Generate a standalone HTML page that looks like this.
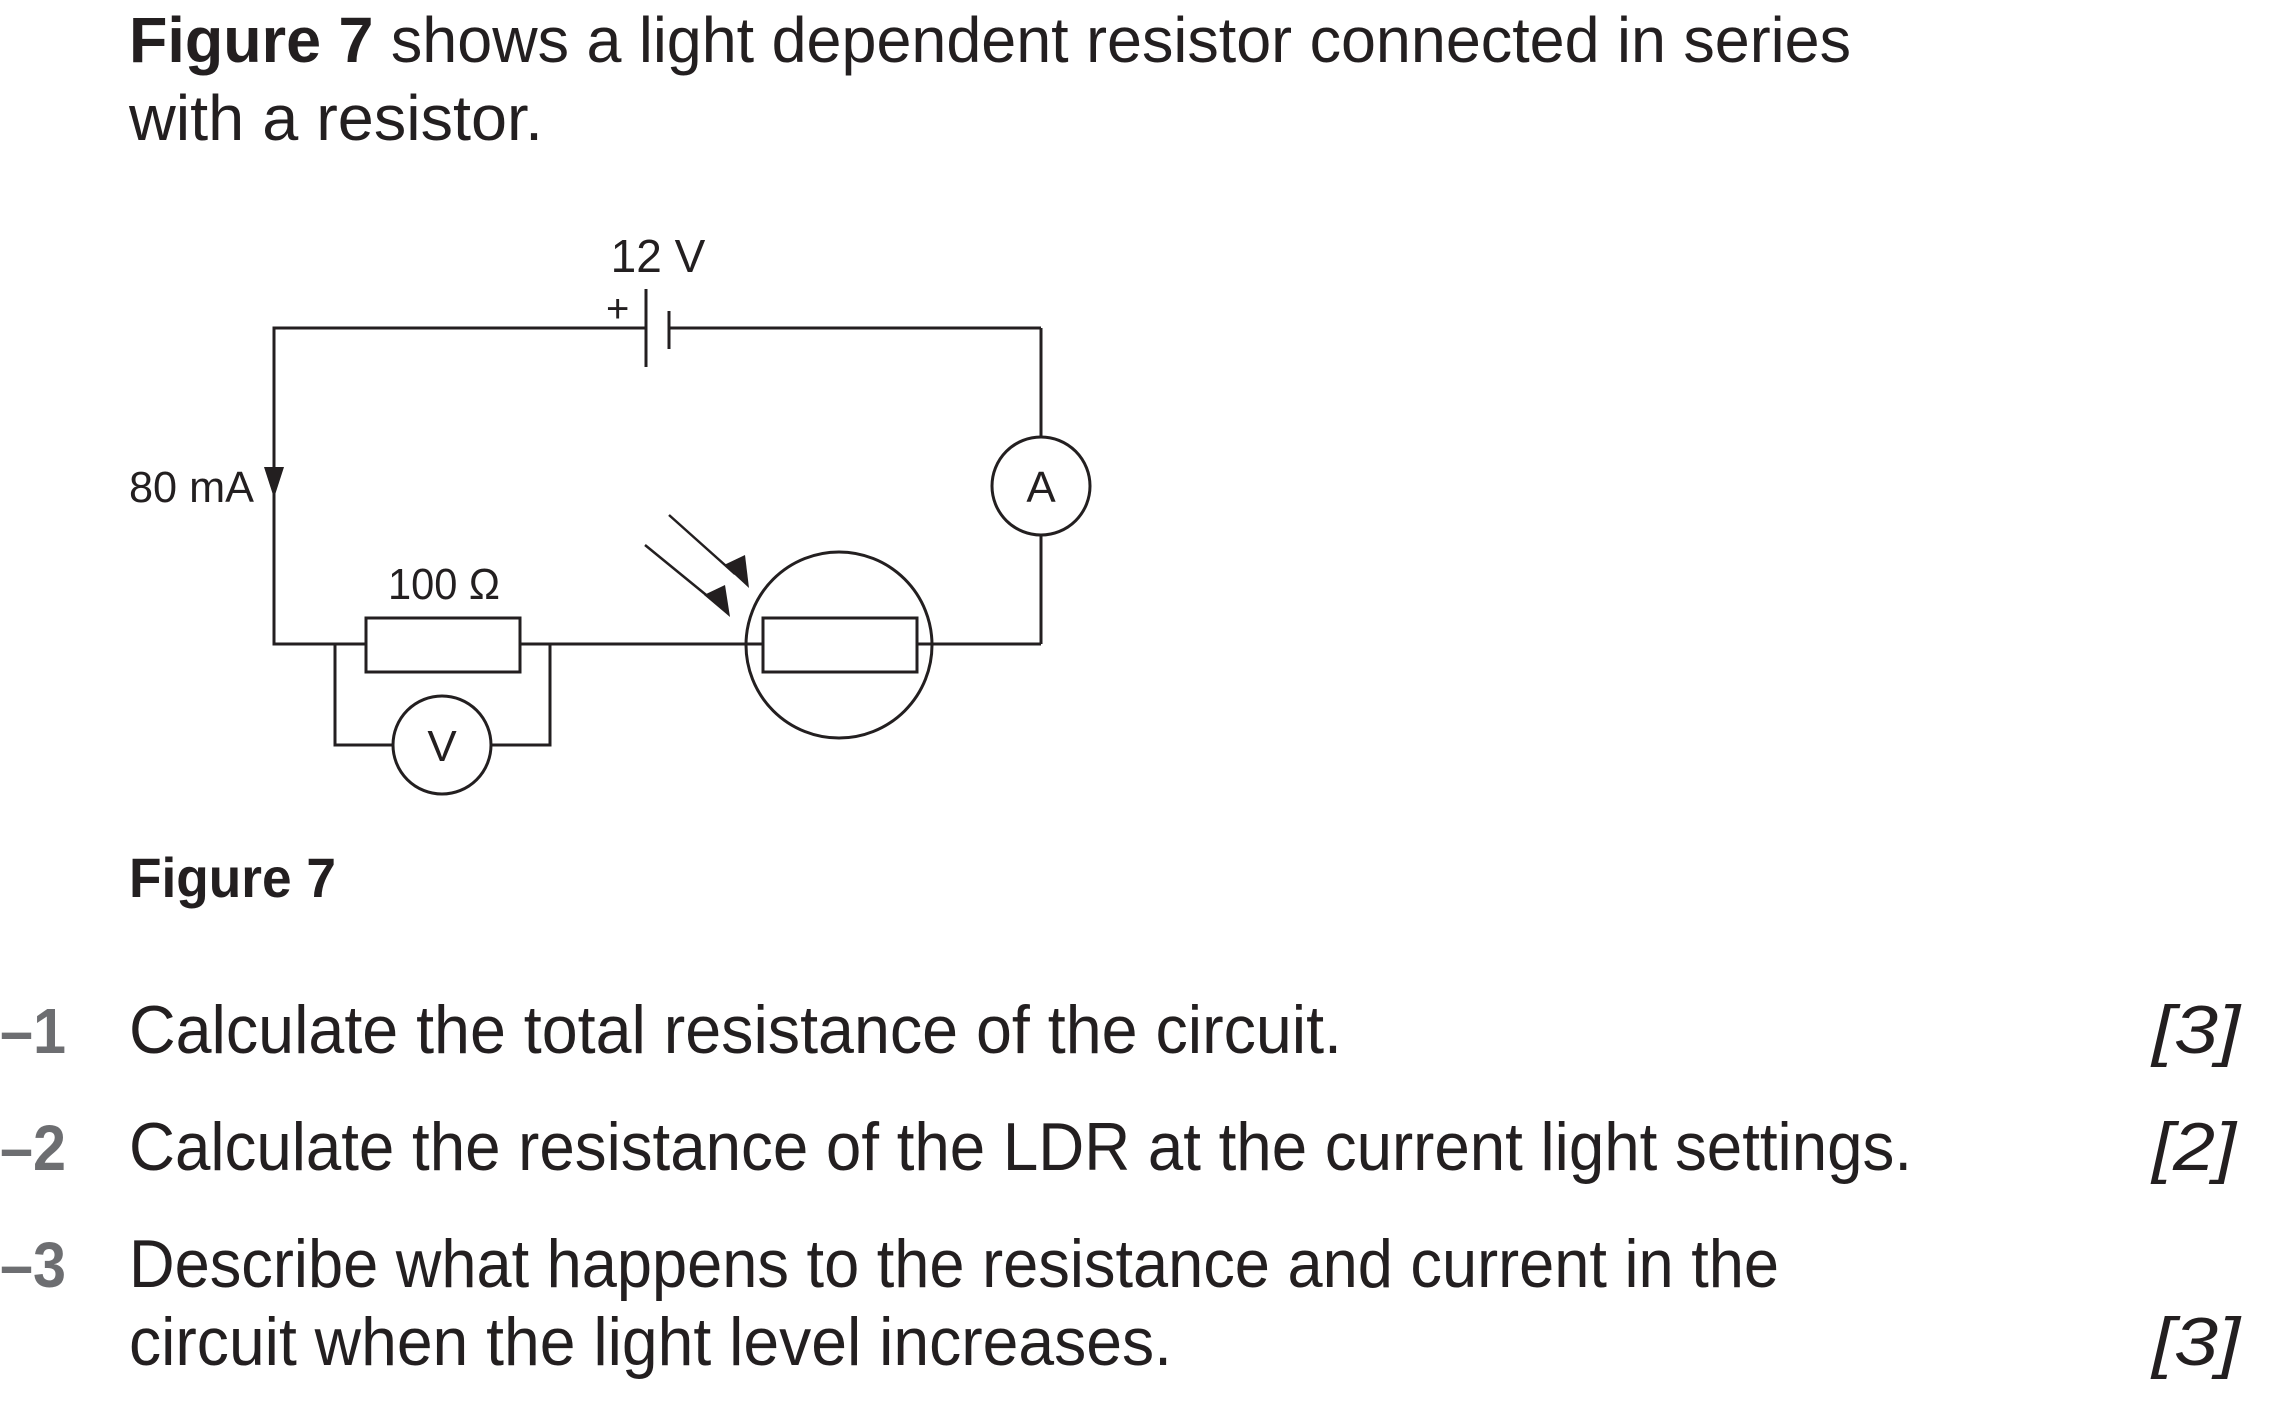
<!DOCTYPE html>
<html><head><meta charset="utf-8"><style>
html,body{margin:0;padding:0;background:#fff;}
svg{display:block;}
text{font-family:"Liberation Sans",sans-serif;fill:#231f20;}
</style></head><body>
<svg width="2280" height="1418" viewBox="0 0 2280 1418" xmlns="http://www.w3.org/2000/svg">
<text x="129" y="62" font-size="64" textLength="1722" lengthAdjust="spacingAndGlyphs"><tspan font-weight="bold">Figure 7</tspan> shows a light dependent resistor connected in series</text>
<text x="129" y="140" font-size="64" textLength="414" lengthAdjust="spacingAndGlyphs">with a resistor.</text>

<g stroke="#231f20" stroke-width="3" fill="none">
<polyline points="646,328 274,328 274,644 366,644"/>
<line x1="669" y1="328" x2="1041" y2="328"/>
<line x1="1041" y1="328" x2="1041" y2="437"/>
<line x1="1041" y1="535" x2="1041" y2="644"/>
<line x1="1041" y1="644" x2="932" y2="644"/>
<line x1="520" y1="644" x2="746" y2="644"/>
<line x1="646" y1="289" x2="646" y2="367"/>
<line x1="669" y1="311" x2="669" y2="349"/>
<circle cx="1041" cy="486" r="49"/>
<rect x="366" y="618" width="154" height="54"/>
<polyline points="335,644 335,745 393,745"/>
<polyline points="550,644 550,745 491,745"/>
<circle cx="442" cy="745" r="49"/>
<circle cx="839" cy="645" r="93"/>
<rect x="763" y="618" width="154" height="54"/>
<line x1="746" y1="644" x2="763" y2="644"/>
<line x1="917" y1="644" x2="932" y2="644"/>
<line x1="669" y1="515" x2="735" y2="574" stroke-width="2.5"/>
<line x1="645" y1="545" x2="716" y2="603" stroke-width="2.5"/>
</g>
<polygon points="749,588 724,565 745,555" fill="#231f20"/>
<polygon points="730,617 704,595 725,585" fill="#231f20"/>
<polygon points="264,467 284,467 274,498" fill="#231f20"/>

<text x="658" y="272" font-size="46" text-anchor="middle">12 V</text>
<text x="606" y="322" font-size="40">+</text>
<text x="129" y="502" font-size="44" textLength="125" lengthAdjust="spacingAndGlyphs">80 mA</text>
<text x="388" y="599" font-size="44" textLength="112" lengthAdjust="spacingAndGlyphs">100 Ω</text>
<text x="1041" y="502" font-size="44" text-anchor="middle">A</text>
<text x="442" y="761" font-size="44" text-anchor="middle">V</text>

<text x="129" y="897" font-size="56" font-weight="bold" textLength="207" lengthAdjust="spacingAndGlyphs">Figure 7</text>

<text x="0" y="1053" font-size="64" font-weight="bold" style="fill:#6d6e71" textLength="66" lengthAdjust="spacingAndGlyphs">–1</text>
<text x="129" y="1053" font-size="68" textLength="1213" lengthAdjust="spacingAndGlyphs">Calculate the total resistance of the circuit.</text>
<text x="2152" y="1053" font-size="68" font-style="italic" textLength="88" lengthAdjust="spacingAndGlyphs">[3]</text>

<text x="0" y="1170" font-size="64" font-weight="bold" style="fill:#6d6e71" textLength="66" lengthAdjust="spacingAndGlyphs">–2</text>
<text x="129" y="1170" font-size="68" textLength="1783" lengthAdjust="spacingAndGlyphs">Calculate the resistance of the LDR at the current light settings.</text>
<text x="2152" y="1170" font-size="68" font-style="italic" textLength="84" lengthAdjust="spacingAndGlyphs">[2]</text>

<text x="0" y="1287" font-size="64" font-weight="bold" style="fill:#6d6e71" textLength="66" lengthAdjust="spacingAndGlyphs">–3</text>
<text x="129" y="1287" font-size="68" textLength="1650" lengthAdjust="spacingAndGlyphs">Describe what happens to the resistance and current in the</text>
<text x="129" y="1365" font-size="68" textLength="1043" lengthAdjust="spacingAndGlyphs">circuit when the light level increases.</text>
<text x="2152" y="1365" font-size="68" font-style="italic" textLength="88" lengthAdjust="spacingAndGlyphs">[3]</text>
</svg>
</body></html>
